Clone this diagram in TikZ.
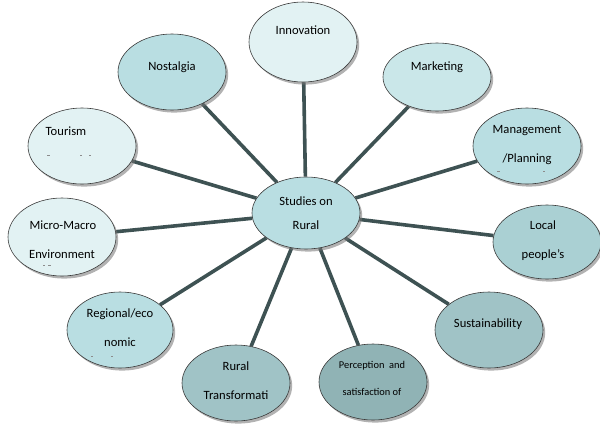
\documentclass[tikz,border=0pt]{standalone}
\usepackage{fontspec}
\setmainfont{Carlito}
\usetikzlibrary{shapes.geometric,shadows,backgrounds}

\definecolor{pale}{HTML}{E2F2F3}
\definecolor{aqua}{HTML}{B9DEE2}
\definecolor{aqualt}{HTML}{CAE7E9}
\definecolor{aquamid}{HTML}{AAD0D3}
\definecolor{slate}{HTML}{A0C3C6}
\definecolor{slatedk}{HTML}{90B3B5}
\definecolor{spoke}{HTML}{3E5253}
\definecolor{rim}{HTML}{3A3A3A}

\tikzset{
  topic/.style={ellipse, draw=rim, line width=0.6pt,
    minimum width=108pt, minimum height=76pt, inner sep=0pt,
    drop shadow={shadow xshift=2.2pt, shadow yshift=-2.6pt,
      fill=black!55, opacity=0.55}},
  lbl/.style={anchor=base, inner sep=0pt, font=\fontsize{12.6}{13}\selectfont, text=black},
  lblsm/.style={anchor=base, inner sep=0pt, font=\fontsize{10.4}{11}\selectfont, text=black},
  conn/.style={draw=spoke, line width=3.6pt},
  cut/.style={draw=black!45, line width=0.7pt}
}

\begin{document}
\begin{tikzpicture}[x=1pt, y=-1pt]
\useasboundingbox (0,0) rectangle (600,424);

% topic ellipses
\node[topic, fill=aqua, minimum width=108pt, minimum height=72pt] (hub) at (306,213) {};
\node[topic, fill=pale, minimum height=80pt] (innov) at (303,42) {};
\node[topic, fill=aqua] (nost) at (172,72) {};
\node[topic, fill=aqualt, minimum height=68pt] (mkt) at (437,77) {};
\node[topic, fill=pale] (tour) at (82,146) {};
\node[topic, fill=aqua] (mgmt) at (527,146) {};
\node[topic, fill=pale, minimum height=78pt] (micro) at (62,237) {};
\node[topic, fill=aquamid, minimum height=74pt] (local) at (547,242) {};
\node[topic, fill=aqua, minimum width=106pt] (region) at (120,330) {};
\node[topic, fill=slate] (sust) at (489,330) {};
\node[topic, fill=slate] (trans) at (236,383) {};
\node[topic, fill=slatedk] (perc) at (373,382) {};

% spokes from the hub to every topic
\begin{scope}[on background layer]
\foreach \t in {innov,nost,mkt,tour,mgmt,micro,local,region,sust,trans,perc}
  \draw[conn] (hub) -- (\t);
\end{scope}

% labels
\node[lbl] (hub-a) at (306,205) {Studies on};
\node[lbl] (hub-b) at (306,229) {Rural};
\node[lbl] (innov-a) at (303,34) {Innovation};
\node[lbl] (nost-a) at (172,70) {Nostalgia};
\node[lbl] (mkt-a) at (437,70) {Marketing};
\node[lbl] (tour-a) at (66,135) {Tourism};
\node[lbl] (mgmt-a) at (527,133) {Management};
\node[lbl] (mgmt-b) at (527,162) {/Planning};
\node[lbl] (micro-a) at (63,229) {Micro-Macro};
\node[lbl] (micro-b) at (62,258) {Environment};
\node[lbl] (local-a) at (543,229) {Local};
\node[lbl] (local-b) at (543,258) {people’s};
\node[lbl] (region-a) at (120,317) {Regional/eco};
\node[lbl] (region-b) at (120,346) {nomic};
\node[lbl] (sust-a) at (488,327) {Sustainability};
\node[lbl] (trans-a) at (236,370) {Rural};
\node[lbl] (trans-b) at (236,399) {Transformati};
\node[lblsm] (perc-a) at (372,368) {Perception\ \ and};
\node[lblsm] (perc-b) at (372,395) {satisfaction of};

% clipped tops of hidden third lines
\draw[cut] (47,155) -- (50,155) (80,155) -- (81.5,155) (89,155) -- (90.5,155);
\draw[cut] (497,171) -- (499.5,171) (543,171) -- (544.5,171);
\draw[cut] (43,265) -- (44.5,265) (48,265) -- (51,265);
\draw[cut] (91,356) -- (92.5,356) (111,356) -- (112.5,356);
\end{tikzpicture}
\end{document}
